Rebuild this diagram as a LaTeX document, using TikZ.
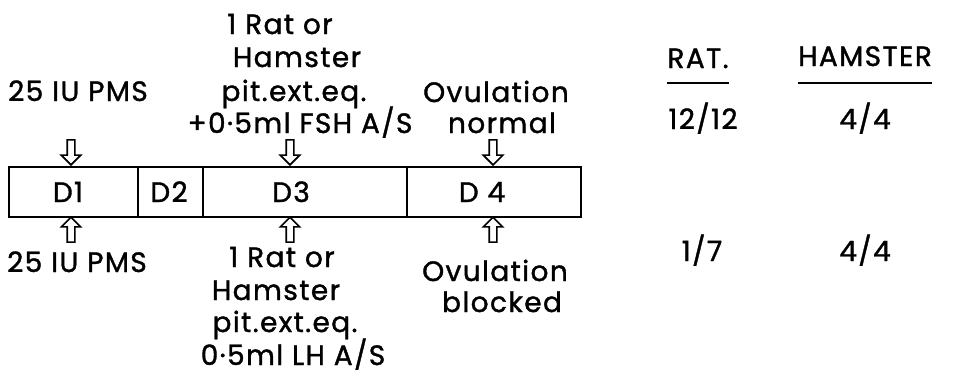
\documentclass[tikz,border=0pt]{standalone}
\usepackage{fontspec}
\setmainfont{Poppins}
\newfontfamily\labelfont{Poppins}[FakeBold=1.3, LetterSpace=5]
\usetikzlibrary{shapes.arrows}
\begin{document}
\begin{tikzpicture}[x=1pt,y=-1pt,
  lbl/.style={anchor=base, inner sep=0pt, font=\labelfont\fontsize{28}{32}\selectfont},
  cell/.style={draw, line width=1.7pt, minimum height=50pt, inner sep=0pt, anchor=north west},
  hollowarrow/.style={single arrow, draw, line width=1.6pt, minimum height=25pt,
    minimum width=19pt, inner sep=3pt, single arrow head extend=6pt,
    single arrow tip angle=90, anchor=tip},
  underrule/.style={line width=1.6pt}]
\useasboundingbox (0,0) rectangle (953,376);

% the four day cells
\node[cell, minimum width=129pt] (c1) at (8,166) {};
\node[cell, minimum width=65pt]  (c2) at (137,166) {};
\node[cell, minimum width=204pt] (c3) at (202,166) {};
\node[cell, minimum width=174pt] (c4) at (406,166) {};
\node[lbl] (d1) at (68,202) {D1};
\node[lbl] (d2) at (169,202) {D2};
\node[lbl] (d3) at (291,202) {D3};
\node[lbl] (d4) at (482,202) {D 4};

% arrow tips on the cell borders
\coordinate (t1) at (71,166);
\coordinate (t3) at (290,166);
\coordinate (t4) at (493,166);
\coordinate (b1) at (71,216);
\coordinate (b3) at (290,216);
\coordinate (b4) at (493,216);

% upper treatments
\node[lbl] (top25) at (78,101) {25 IU PMS};
\node[lbl] (r1) at (280,34) {1 Rat or};
\node[lbl] (r2) at (297,67) {Hamster};
\node[lbl] (r3) at (294,101) {pit.ext.eq.};
\node[lbl] (r4) at (300,133) {+0·5ml FSH A/S};
\node[lbl] (ov1) at (496,102) {Ovulation};
\node[lbl] (ov2) at (502,133) {normal};

% lower treatments
\node[lbl] (bot25) at (77,272) {25 IU PMS};
\node[lbl] (s1) at (282,267) {1 Rat or};
\node[lbl] (s2) at (276,300) {Hamster};
\node[lbl] (s3) at (285,332) {pit.ext.eq.};
\node[lbl] (s4) at (293,365) {0·5ml LH A/S};
\node[lbl] (ob1) at (495,281) {Ovulation};
\node[lbl] (ob2) at (502,312) {blocked};

% hollow arrows into the cells
\node[hollowarrow, rotate=-90] (a1) at (t1) {};
\node[hollowarrow, rotate=-90] (a3) at (t3) {};
\node[hollowarrow, rotate=-90] (a4) at (t4) {};
\node[hollowarrow, rotate=90] (a5) at (b1) {};
\node[hollowarrow, rotate=90] (a6) at (b3) {};
\node[hollowarrow, rotate=90] (a7) at (b4) {};

% results table
\node[lbl] (rat) at (698,68) {RAT.};
\node[lbl] (ham) at (865,66) {HAMSTER};
\draw[underrule] ([yshift=-15pt]rat.base west) -- ([yshift=-15pt]rat.base east);
\draw[underrule] ([yshift=-17pt]ham.base west) -- ([yshift=-17pt]ham.base east);
\node[lbl] (n1) at (703,129) {12/12};
\node[lbl] (n2) at (865,129) {4/4};
\node[lbl] (n3) at (702,261) {1/7};
\node[lbl] (n4) at (865,261) {4/4};
\end{tikzpicture}
\end{document}
